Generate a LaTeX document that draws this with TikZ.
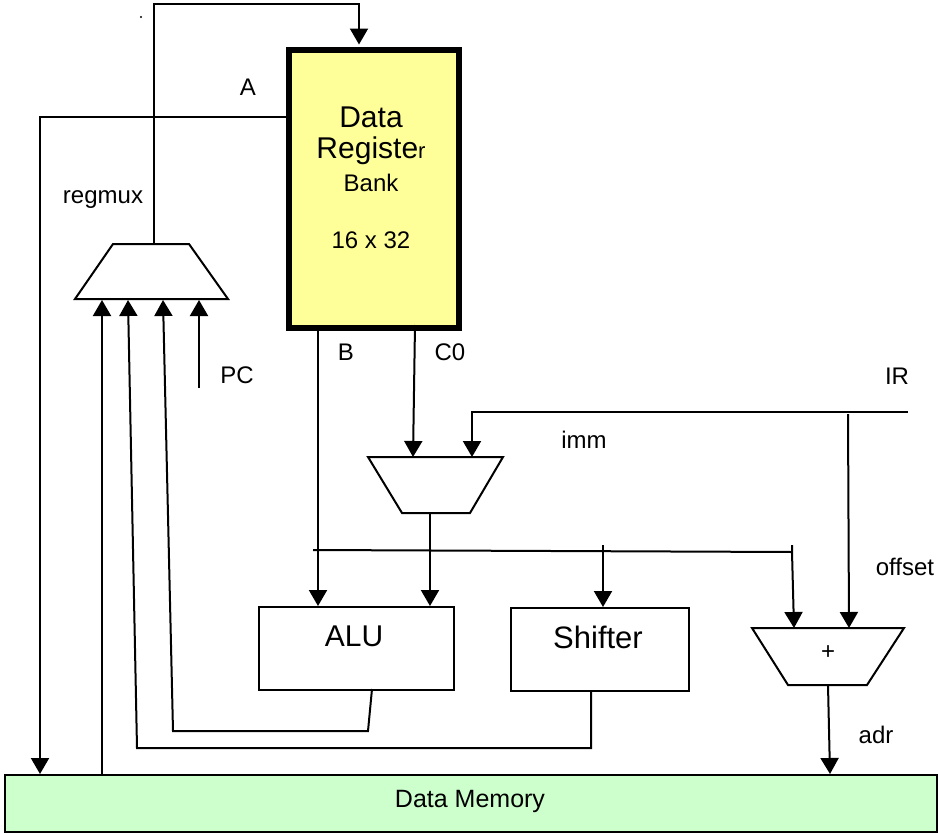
\documentclass[tikz,border=0pt]{standalone}
\usepackage{fontspec}
\setmainfont{Liberation Sans}
\usetikzlibrary{arrows.meta}
\definecolor{regyellow}{HTML}{FFFF99}
\definecolor{memgreen}{HTML}{CCFFCC}
\begin{document}
\begin{tikzpicture}[x=1bp,y=-1bp, line width=2bp,
  >={Triangle[length=16bp,width=18bp]},
  lbl/.style={font=\fontsize{24bp}{28bp}\selectfont, inner sep=0pt},
  big/.style={font=\fontsize{30bp}{34bp}\selectfont, inner sep=0pt},
  unit/.style={draw, line width=2bp, inner sep=0pt, anchor=north west}]
\useasboundingbox (0,0) rectangle (938,833);

% blocks
\node[unit, line width=6bp, fill=regyellow, minimum width=170bp, minimum height=278.5bp] (rb) at (286,46.5) {};
\node[big] (t1) at (371,117) {Data};
\node[big] (t2) at (371,151) {Registe{\fontsize{22bp}{24bp}\selectfont r}};
\node[lbl] (t3) at (371,183) {Bank};
\node[lbl] (t4) at (371,240) {16 x 32};

\node[unit, fill=memgreen, minimum width=932bp, minimum height=57bp] (dm) at (4,773.5) {};
\node[lbl, font=\fontsize{25bp}{28bp}\selectfont] (dmt) at (470,801) {Data Memory};

\node[unit, minimum width=195bp, minimum height=83bp] (alu) at (258,606) {};
\node[big, font=\fontsize{30bp}{32bp}\selectfont] (alut) at (354,636) {ALU};
\node[unit, minimum width=178bp, minimum height=83bp] (sh) at (510,607) {};
\node[big, font=\fontsize{31bp}{32bp}\selectfont] (sht) at (598,637) {Shifter};

% trapezoids
\draw (113,244) -- (189,244) -- (228,299) -- (75,299) -- cycle;
\draw (368,457) -- (503,457) -- (470,513) -- (402,513) -- cycle;
\draw (752,628) -- (904,628) -- (867,685) -- (788,685) -- cycle;
\node[lbl] (plus) at (828,653) {+};

% named points
\coordinate (rmtop) at (154,244);
\coordinate (fb) at (359,4);
\coordinate (rbA) at (286,117);
\coordinate (dmA) at (40,774);
\coordinate (pc) at (199,388);
\coordinate (rmin4) at (199,300);
\coordinate (dmB) at (102,774);
\coordinate (rmin1) at (102,300);
\coordinate (aluo) at (372,689);
\coordinate (rmin3) at (163,300);
\coordinate (sho) at (591,690);
\coordinate (rmin2) at (128,300);
\coordinate (rbB) at (318,325);
\coordinate (aluB) at (318,606);
\coordinate (rbC) at (415,325);
\coordinate (immC) at (413,457);
\coordinate (ir) at (908,412);
\coordinate (immI) at (472,457);
\coordinate (offs) at (848,414);
\coordinate (addR) at (849,628);
\coordinate (immo) at (430,513);
\coordinate (aluI) at (430,606);
\coordinate (bus0) at (313,550);
\coordinate (busE) at (792,552);
\coordinate (addL) at (794,628);
\coordinate (busS) at (603,550);
\coordinate (shI) at (603,607);
\coordinate (addo) at (828,685);
\coordinate (dmadr) at (830,774);

% connectors
\draw[->, shorten >=2bp] (rmtop) |- (fb) -- (fb |- rb.north);
\draw[->] (rbA) -| (dmA);
\draw[->] (pc) -- (rmin4);
\draw[->] (dmB) -- (rmin1);
\draw[->] (aluo) -- (368,731) -- (173,731) -- (rmin3);
\draw[->] (sho) -- (591,748) -- (137,748) -- (rmin2);
\draw[->] (rbB) -- (aluB);
\draw[->] (rbC) -- (immC);
\draw[->] (ir) -- (472,412) -- (immI);
\draw[->] (offs) -- (addR);
\draw[->] (immo) -- (aluI);
\draw (bus0) -- (busE);
\draw[->] (792,545) -- (busE) -- (addL);
\draw[->] (603,545) -- (shI);
\draw[->] (addo) -- (dmadr);

% labels
\node[lbl] (lA) at (248,87) {A};
\node[lbl] (lreg) at (103,200) {regmux};
\node[lbl] (lPC) at (237,375) {PC};
\node[lbl] (lB) at (346,352) {B};
\node[lbl] (lC0) at (450,352) {C0};
\node[lbl] (lIR) at (897,376) {IR};
\node[lbl] (limm) at (584,440) {imm};
\node[lbl] (loff) at (905,567) {offset};
\node[lbl] (ladr) at (876,735) {adr};
\fill (141,17) circle (1.2bp);
\end{tikzpicture}
\end{document}
